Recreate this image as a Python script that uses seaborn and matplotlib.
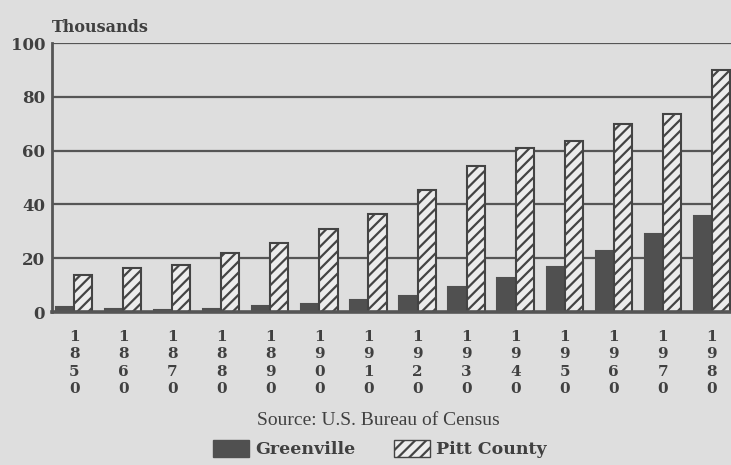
import matplotlib
matplotlib.use("Agg")
import matplotlib.pyplot as plt
import seaborn as sns
import pandas as pd
from matplotlib.patches import Patch

years = ["1850", "1860", "1870", "1880", "1890", "1900", "1910",
         "1920", "1930", "1940", "1950", "1960", "1970", "1980"]
greenville = [2.0, 1.2, 0.9, 1.2, 2.2, 3.0, 4.5, 6.0, 9.2, 12.6, 16.7, 22.8, 28.9, 35.6]
pitt_county = [13.6, 16.3, 17.4, 21.8, 25.6, 31.0, 36.4, 45.5, 54.4, 61.1, 63.5, 69.8, 73.5, 89.9]
series = ["Greenville", "Pitt County"]
y_ticks = [0, 20, 40, 60, 80, 100]

BG = "#dedede"
DARK = "#505050"
LIGHT = "#ececec"
EDGE = "#444444"
TXT = "#404040"
HEAVY = "DejaVu Serif"

df = pd.DataFrame({
    "year": years * 2,
    "value": greenville + pitt_county,
    "series": [series[0]] * len(years) + [series[1]] * len(years),
})

sns.set_style("white")
plt.rcParams["hatch.linewidth"] = 1.6
plt.rcParams["hatch.color"] = EDGE

fig = plt.figure(figsize=(7.31, 4.65), dpi=100, facecolor=BG)
ax = fig.add_axes([52 / 731, 1 - 312 / 465, 1 - 52 / 731, (312 - 43) / 465])
ax.set_facecolor(BG)

sns.barplot(data=df, x="year", y="value", hue="series", order=years,
            hue_order=series, palette=[DARK, LIGHT], width=0.74,
            edgecolor=EDGE, linewidth=1.5, saturation=1, legend=False, ax=ax)

n = len(years)
for i, bar in enumerate(ax.patches[:2 * n]):
    if i >= n:
        bar.set_hatch("///")
        bar.set_edgecolor(EDGE)
    else:
        bar.set_edgecolor(DARK)
    bar.set_zorder(3)

ax.set_xlim(-0.45, 13.39)
ax.set_ylim(0, 100)
ax.set_yticks(y_ticks)
ax.set_yticklabels([str(t) for t in y_ticks], fontfamily=HEAVY,
                   fontweight="heavy", fontsize=12, color=TXT)
ax.set_xticks(range(n))
ax.set_xticklabels(["\n".join(y) for y in years], fontfamily=HEAVY,
                   fontweight="heavy", fontsize=11, color=TXT,
                   linespacing=1.3, va="top")
ax.tick_params(axis="both", length=0)
ax.tick_params(axis="x", pad=13)
ax.tick_params(axis="y", pad=5)
ax.set_xlabel("")
ax.set_ylabel("")

for t in y_ticks[1:]:
    ax.axhline(t, color="#555555", lw=1.6, zorder=1)

for s in ["top", "right"]:
    ax.spines[s].set_visible(False)
ax.spines["left"].set_color("#555555")
ax.spines["left"].set_linewidth(2)
ax.spines["bottom"].set_color("#555555")
ax.spines["bottom"].set_linewidth(2.6)
ax.spines["bottom"].set_zorder(4)

fig.text(52 / 731, 1 - 27 / 465, "Thousands", fontfamily=HEAVY,
         fontweight="heavy", fontsize=11.5, color=TXT, ha="left", va="center")

fig.text(378 / 731, 1 - 420 / 465, "Source: U.S. Bureau of Census",
         fontfamily="Liberation Serif", fontsize=14, color=TXT,
         ha="center", va="center")

handles = [Patch(facecolor=DARK, edgecolor=DARK, label=series[0]),
           Patch(facecolor=LIGHT, edgecolor=EDGE, hatch="///", label=series[1])]
leg = fig.legend(handles=handles, loc="center", bbox_to_anchor=(380 / 731, 1 - 449 / 465),
                 ncol=2, frameon=False, handlelength=2.1, handleheight=1.2,
                 handletextpad=0.35, columnspacing=2.2,
                 prop={"family": HEAVY, "weight": "heavy", "size": 12.5})
for t in leg.get_texts():
    t.set_color(TXT)

fig.savefig("out.png", dpi=100, facecolor=BG)
